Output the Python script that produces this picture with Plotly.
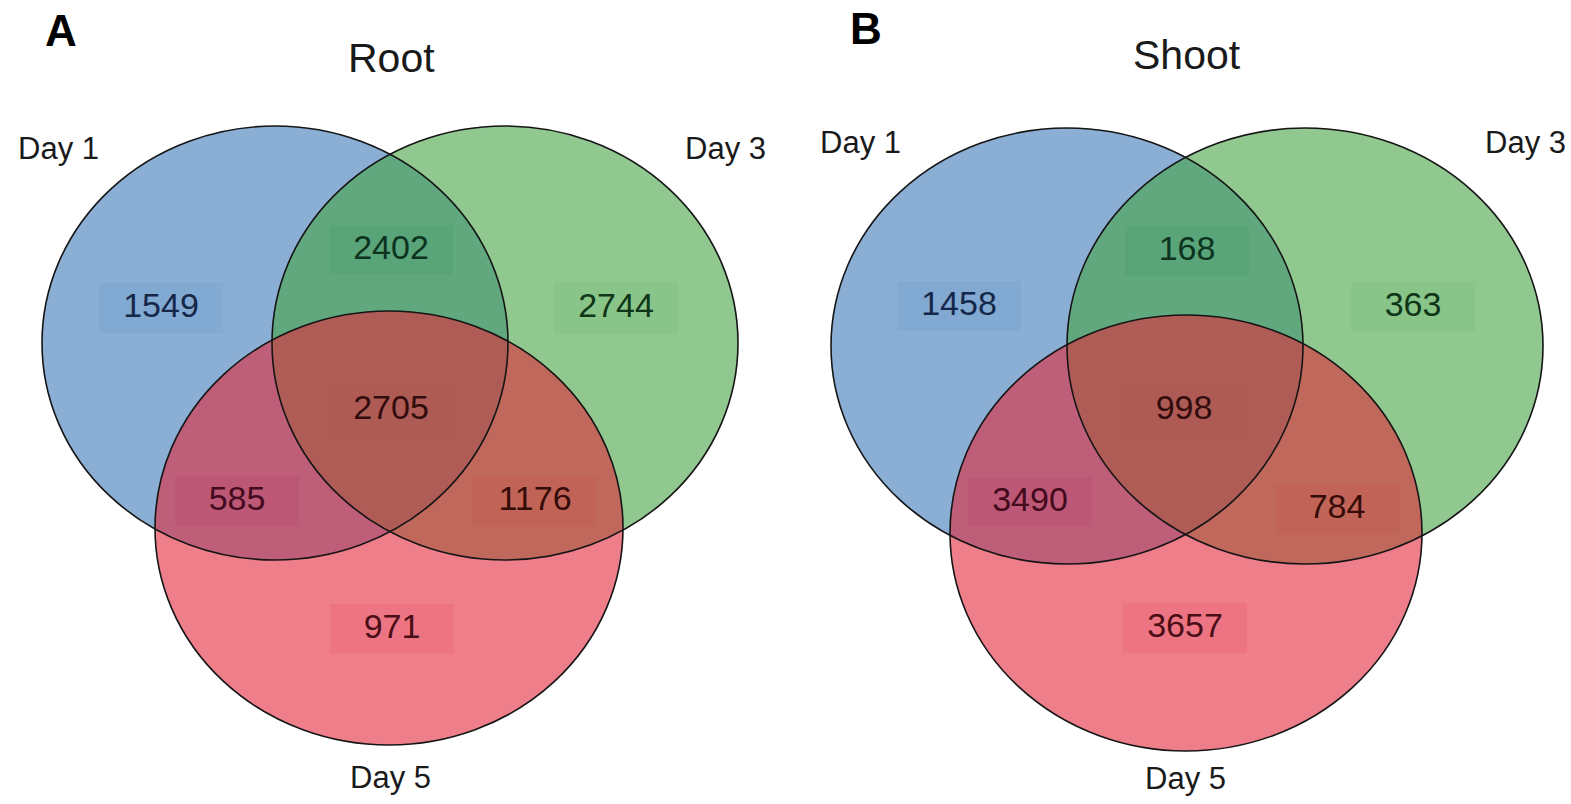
import plotly.graph_objects as go

# ---- data -------------------------------------------------------------
set_names = ["Day 1", "Day 3", "Day 5"]
panel_letters = ["A", "B"]
panel_titles = ["Root", "Shoot"]
# region order: Day1 only, Day3 only, Day5 only, D1&D3, D1&D5, D3&D5, all three
region_keys = ["d1", "d3", "d5", "d13", "d15", "d35", "all"]
root_counts = [1549, 2744, 971, 2402, 585, 1176, 2705]
shoot_counts = [1458, 363, 3657, 168, 3490, 784, 998]

# ---- layout geometry (pixel space of the 1571 x 804 canvas) -----------
W, H = 1571, 804
FONT = "Liberation Sans, Arial, sans-serif"

panels = [
    dict(
        counts=root_counts,
        circles=[(275, 343, 233, 217), (505, 343, 233, 217), (389, 528, 234, 217)],
        labels={"d1": (161, 308), "d3": (616, 308), "d5": (392, 629),
                "d13": (391, 250), "d15": (237, 501), "d35": (535, 501),
                "all": (391, 410)},
        set_pos=[(58, 148), (725, 148), (390, 777)],
        title_pos=(391, 58),
        letter_pos=(61, 30),
    ),
    dict(
        counts=shoot_counts,
        circles=[(1067, 346, 236, 218), (1305, 346, 238, 218), (1186, 533, 236, 218)],
        labels={"d1": (959, 306), "d3": (1413, 307), "d5": (1185, 628),
                "d13": (1187, 251), "d15": (1030, 502), "d35": (1337, 509),
                "all": (1184, 410)},
        set_pos=[(860, 142), (1525, 142), (1185, 778)],
        title_pos=(1187, 55),
        letter_pos=(866, 28),
    ),
]

# translucent set fills, drawn blue -> green -> red
set_fills = ["rgba(60,120,183,0.6)", "rgba(70,163,68,0.6)", "rgba(227,40,60,0.6)"]

# label box tint and number colour per region
box_fill = {
    "d1": "rgba(70,130,200,0.10)", "d3": "rgba(90,180,90,0.12)",
    "d5": "rgba(230,60,80,0.12)", "d13": "rgba(40,140,90,0.13)",
    "d15": "rgba(170,40,90,0.10)", "d35": "rgba(200,70,40,0.10)",
    "all": "rgba(150,50,50,0.03)",
}
num_color = {
    "d1": "#16284a", "d3": "#0f3618", "d5": "#4a0e16", "d13": "#0c331d",
    "d15": "#440a1e", "d35": "#360c08", "all": "#330c0c",
}

fig = go.Figure()
shapes = []
annotations = []

for p, letter, title in zip(panels, panel_letters, panel_titles):
    # fills
    for (cx, cy, rx, ry), fill in zip(p["circles"], set_fills):
        shapes.append(dict(type="circle", xref="x", yref="y",
                           x0=cx - rx, x1=cx + rx, y0=cy - ry, y1=cy + ry,
                           fillcolor=fill, line=dict(width=0), layer="below"))
    # label boxes
    for key in region_keys:
        x, y = p["labels"][key]
        shapes.append(dict(type="rect", xref="x", yref="y",
                           x0=x - 62, x1=x + 62, y0=y - 25, y1=y + 25,
                           fillcolor=box_fill[key], line=dict(width=0),
                           layer="below"))
    # outlines on top of the fills
    for (cx, cy, rx, ry) in p["circles"]:
        shapes.append(dict(type="circle", xref="x", yref="y",
                           x0=cx - rx, x1=cx + rx, y0=cy - ry, y1=cy + ry,
                           fillcolor="rgba(0,0,0,0)",
                           line=dict(color="#151515", width=1.6)))

    # region counts
    fig.add_trace(go.Scatter(
        x=[p["labels"][k][0] for k in region_keys],
        y=[p["labels"][k][1] for k in region_keys],
        text=[str(v) for v in p["counts"]],
        mode="text",
        textposition="middle center",
        textfont=dict(family=FONT, size=34,
                      color=[num_color[k] for k in region_keys]),
        hoverinfo="skip", showlegend=False,
    ))

    # set names
    for name, (x, y) in zip(set_names, p["set_pos"]):
        annotations.append(dict(x=x, y=y, xref="x", yref="y", text=name,
                                showarrow=False, xanchor="center", yanchor="middle",
                                font=dict(family=FONT, size=31, color="#1a1a1a")))
    # panel title and letter
    tx, ty = p["title_pos"]
    annotations.append(dict(x=tx, y=ty, xref="x", yref="y", text=title,
                            showarrow=False, xanchor="center", yanchor="middle",
                            font=dict(family=FONT, size=41, color="#1a1a1a")))
    lx, ly = p["letter_pos"]
    annotations.append(dict(x=lx, y=ly, xref="x", yref="y", text=f"<b>{letter}</b>",
                            showarrow=False, xanchor="center", yanchor="middle",
                            font=dict(family=FONT, size=44, color="#000000")))

fig.update_layout(
    width=W, height=H,
    margin=dict(l=0, r=0, t=0, b=0),
    paper_bgcolor="white", plot_bgcolor="white",
    shapes=shapes, annotations=annotations,
    xaxis=dict(range=[0, W], visible=False, fixedrange=True),
    yaxis=dict(range=[H, 0], visible=False, fixedrange=True),
    showlegend=False,
)

fig.write_html("out.html", config={"displayModeBar": False})
